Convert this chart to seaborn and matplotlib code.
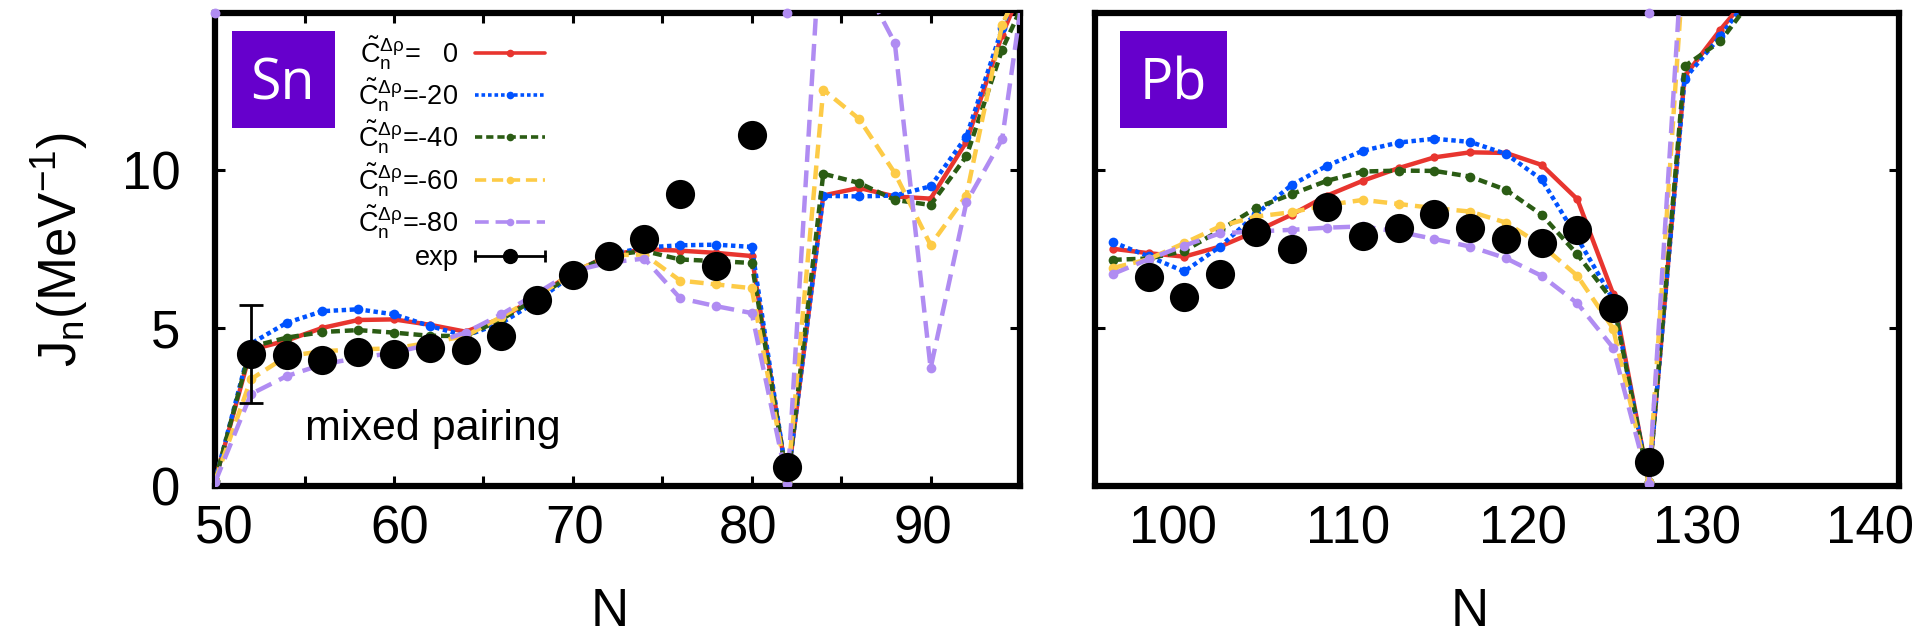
import matplotlib
matplotlib.use("Agg")
import numpy as np
import matplotlib.pyplot as plt
from matplotlib.lines import Line2D
from matplotlib.patches import Rectangle
from matplotlib.ticker import FixedLocator, NullFormatter
from matplotlib.transforms import ScaledTranslation
from matplotlib.legend_handler import HandlerLine2D, HandlerTuple
import seaborn as sns

# ---------------------------------------------------------------- data
couplings = ["0", "-20", "-40", "-60", "-80"]

# Sn chain: neutron number and moment of inertia J_n (MeV^-1)
sn_n = [50, 52, 54, 56, 58, 60, 62, 64, 66, 68, 70, 72,
        74, 76, 78, 80, 82, 84, 86, 88, 90, 92, 94, 96]
sn_c0 = [0.15, 4.30, 4.60, 5.00, 5.25, 5.27, 5.10, 4.88, 5.30, 6.00, 6.75, 7.30,
         7.50, 7.45, 7.38, 7.28, 0.10, 9.20, 9.44, 9.17, 9.10, 10.90, 14.30, 17.00]
sn_c20 = [0.15, 4.50, 5.16, 5.53, 5.59, 5.43, 5.06, 4.75, 5.15, 5.85, 6.70, 7.32,
          7.55, 7.62, 7.64, 7.57, 0.10, 9.19, 9.17, 9.20, 9.49, 11.07, 14.50, 17.50]
sn_c40 = [0.15, 4.40, 4.69, 4.87, 4.93, 4.85, 4.75, 4.74, 5.27, 5.95, 6.72, 7.30,
          7.44, 7.17, 7.12, 7.06, 0.10, 9.89, 9.60, 9.06, 8.90, 10.44, 13.83, 16.30]
sn_c60 = [0.15, 3.37, 4.10, 4.26, 4.32, 4.35, 4.53, 4.74, 5.35, 6.00, 6.75, 7.30,
          7.33, 6.50, 6.38, 6.26, 0.10, 12.56, 11.63, 9.91, 7.63, 9.20, 14.62, 17.00]
sn_c80 = [0.10, 2.90, 3.47, 3.84, 4.05, 4.21, 4.48, 4.85, 5.43, 6.10, 6.80, 7.07,
          7.20, 5.94, 5.69, 5.47, 0.05, 18.80, 16.20, 14.04, 3.72, 8.98, 10.99, 19.00]
sn_c80_top_n = [50, 82]          # -80 points pinned at the top of the frame
sn_exp_n = [52, 54, 56, 58, 60, 62, 64, 66, 68, 70, 72, 74, 76, 78, 80, 82]
sn_exp = [4.18, 4.13, 3.97, 4.23, 4.18, 4.37, 4.29, 4.74, 5.87, 6.67, 7.28, 7.83,
          9.24, 6.96, 11.13, 0.59]
sn_exp_err = [1.55, 0, 0, 0, 0, 0, 0, 0, 0, 0, 0, 0, 0, 0, 0, 0]

# Pb chain
pb_n = [96, 98, 100, 102, 104, 106, 108, 110, 112, 114, 116, 118,
        120, 122, 124, 126, 128, 130, 132]
pb_c0 = [7.51, 7.37, 7.26, 7.58, 8.06, 8.59, 9.20, 9.67, 10.07, 10.41, 10.57, 10.55,
         10.17, 9.08, 6.08, 0.10, 12.98, 14.46, 15.80]
pb_c20 = [7.72, 7.27, 6.79, 7.58, 8.60, 9.53, 10.15, 10.62, 10.88, 11.00, 10.90, 10.52,
          9.71, 7.85, 5.90, 0.10, 12.90, 14.25, 15.80]
pb_c40 = [7.16, 7.20, 7.44, 8.10, 8.80, 9.24, 9.67, 9.96, 9.99, 9.98, 9.80, 9.38,
          8.59, 7.33, 5.85, 0.10, 13.30, 14.09, 15.60]
pb_c60 = [6.90, 7.18, 7.69, 8.22, 8.53, 8.67, 8.90, 9.06, 8.93, 8.80, 8.69, 8.34,
          7.62, 6.65, 4.98, 0.10, 17.00, np.nan, np.nan]
pb_c80 = [6.71, 7.18, 7.61, 8.00, 8.06, 8.11, 8.18, 8.22, 8.05, 7.82, 7.58, 7.21,
          6.65, 5.78, 4.37, 0.05, 18.00, np.nan, np.nan]
pb_c80_top_n = [126]
pb_exp_n = [98, 100, 102, 104, 106, 108, 110, 112, 114, 116, 118, 120, 122, 124, 126]
pb_exp = [6.63, 5.97, 6.71, 8.04, 7.51, 8.85, 7.90, 8.18, 8.62, 8.18, 7.82, 7.69,
          8.11, 5.63, 0.75]

sn_ticks = [50, 60, 70, 80, 90]
pb_ticks = [100, 110, 120, 130, 140]

# ---------------------------------------------------------------- style
sns.set_theme(style="white")
plt.rcParams["font.family"] = ["Liberation Sans", "DejaVu Sans"]
plt.rcParams["mathtext.fontset"] = "custom"
plt.rcParams["mathtext.rm"] = "Liberation Sans"
plt.rcParams["mathtext.it"] = "Liberation Sans"
plt.rcParams["mathtext.sf"] = "Liberation Sans"
plt.rcParams["mathtext.bf"] = "Liberation Sans:bold"

colors = ["#E8352F", "#0052FF", "#2B5C14", "#FDCB47", "#B08CF2"]
dashes = [None, (1.0, 0.8), (2.0, 1.1), (3.1, 1.6), (3.8, 1.9)]
msizes = [6, 7, 7, 7, 7]
LW = 3.2
BOX = "#6600CC"

fig = plt.figure(figsize=(19.17, 6.4), dpi=100)
ax_sn = fig.add_axes([0.1122, 0.2414, 0.4199, 0.7388])
ax_pb = fig.add_axes([0.5712, 0.2414, 0.4194, 0.7388])


def linestyle(d):
    return "-" if d is None else (0, d)


def draw_chain(ax, n, series, top_n, exp_n, exp, exp_err=None):
    for vals, c, d, ms in zip(series, colors, dashes, msizes):
        sns.lineplot(x=n, y=vals, ax=ax, color=c, lw=LW, linestyle=linestyle(d),
                     marker="o", ms=ms, mec=c, mew=0, estimator=None,
                     errorbar=None, zorder=3)
    sns.scatterplot(x=top_n, y=[15.0] * len(top_n), ax=ax, color=colors[4],
                    s=50, linewidth=0, clip_on=False, zorder=3)
    if exp_err is not None:
        ax.errorbar(exp_n, exp, yerr=exp_err, fmt="none", ecolor="black",
                    elinewidth=2.0, capsize=8.5, capthick=2.0, zorder=4)
    sns.scatterplot(x=exp_n, y=exp, ax=ax, color="black", s=21 ** 2,
                    linewidth=0, zorder=5)


draw_chain(ax_sn, sn_n, [sn_c0, sn_c20, sn_c40, sn_c60, sn_c80],
           sn_c80_top_n, sn_exp_n, sn_exp, sn_exp_err)
draw_chain(ax_pb, pb_n, [pb_c0, pb_c20, pb_c40, pb_c60, pb_c80],
           pb_c80_top_n, pb_exp_n, pb_exp)

# ---------------------------------------------------------------- axes
TICK_LEN = 7.2
for ax in (ax_sn, ax_pb):
    ax.set_ylim(0, 15)
    ax.set_yticks([0, 5, 10])
    for sp in ax.spines.values():
        sp.set_visible(True)
        sp.set_color("black")
        sp.set_linewidth(4.5)
    ax.tick_params(which="both", direction="in", length=TICK_LEN, width=2.2,
                   top=True, right=True, bottom=True, left=True,
                   color="black", labelsize=38, labelcolor="black")
    ax.tick_params(axis="x", pad=14)
    ax.tick_params(axis="y", pad=25)
    ax.set_xlabel("N", fontsize=38, color="black")

ax_sn.set_xlim(50, 95)
ax_sn.set_xticks(sn_ticks)
ax_sn.xaxis.set_minor_locator(FixedLocator([55, 65, 75, 85]))
ax_sn.set_ylabel(r"J$_\mathrm{n}$(MeV$^{\mathrm{-1}}$)", fontsize=38, color="black")
ax_sn.yaxis.set_label_coords(-0.155, 0.5)
ax_sn.xaxis.set_label_coords(0.49, -0.215)

ax_pb.set_xlim(95, 140)
ax_pb.set_xticks(pb_ticks)
ax_pb.tick_params(axis="x", which="major", length=0)
ax_pb.xaxis.set_minor_locator(FixedLocator([100]))
ax_pb.xaxis.set_minor_formatter(NullFormatter())
ax_pb.tick_params(axis="y", labelleft=False)
ax_pb.set_ylabel("")
ax_pb.xaxis.set_label_coords(0.466, -0.215)

# the tick numbers sit on a slightly tighter pitch than the tick marks
for ax, shifts in ((ax_sn, [9.5, 5.5, 1.5, -3.5, -7.5]),
                   (ax_pb, [-11, -15, -19, -23, -29])):
    for tick, dx in zip(ax.xaxis.get_major_ticks(), shifts):
        lab = tick.label1
        lab.set_transform(lab.get_transform()
                          + ScaledTranslation(dx / 100.0, 0, fig.dpi_scale_trans))

# element tags
for ax, name, x0, w, xc in ((ax_sn, "Sn", 0.021, 0.128, 0.084),
                            (ax_pb, "Pb", 0.031, 0.133, 0.097)):
    ax.add_patch(Rectangle((x0, 0.756), w, 0.205, transform=ax.transAxes,
                           facecolor=BOX, edgecolor="none", zorder=6))
    ax.text(xc, 0.816, name, transform=ax.transAxes, ha="center", va="baseline",
            fontsize=40, color="white", family=["Open Sans", "DejaVu Sans"],
            zorder=7)

ax_sn.text(0.112, 0.096, "mixed pairing", transform=ax_sn.transAxes,
           ha="left", va="baseline", fontsize=31, color="black")

# legend
handles, labels = [], []
for lab, c, d in zip(couplings, colors, dashes):
    handles.append(Line2D([], [], color=c, lw=2.6, linestyle=linestyle(d),
                          marker="o", ms=5.5, mec=c, mew=0))
    num = "   0" if lab == "0" else lab
    labels.append(r"$\tilde{\mathrm{C}}_\mathrm{n}^{\Delta\rho}$=" + num)
caps = Line2D([], [], color="black", lw=2.0, marker="|", ms=9, mew=2.0)
dot = Line2D([], [], color="black", ls="none", marker="o", ms=10)
handles.append((caps, dot))
labels.append("exp")
leg = ax_sn.legend(handles, labels, loc="upper right",
                   bbox_to_anchor=(0.41, 0.955), markerfirst=False,
                   frameon=False, fontsize=19.5, handlelength=2.6,
                   handletextpad=0.6, labelspacing=0.17, borderpad=0,
                   borderaxespad=0,
                   handler_map={caps: HandlerLine2D(numpoints=2, marker_pad=0),
                                tuple: HandlerTuple(ndivide=1, pad=0)})
for t in leg.get_texts():
    t.set_color("black")
leg.set_zorder(8)

fig.savefig("out.png", dpi=100, facecolor="white")
